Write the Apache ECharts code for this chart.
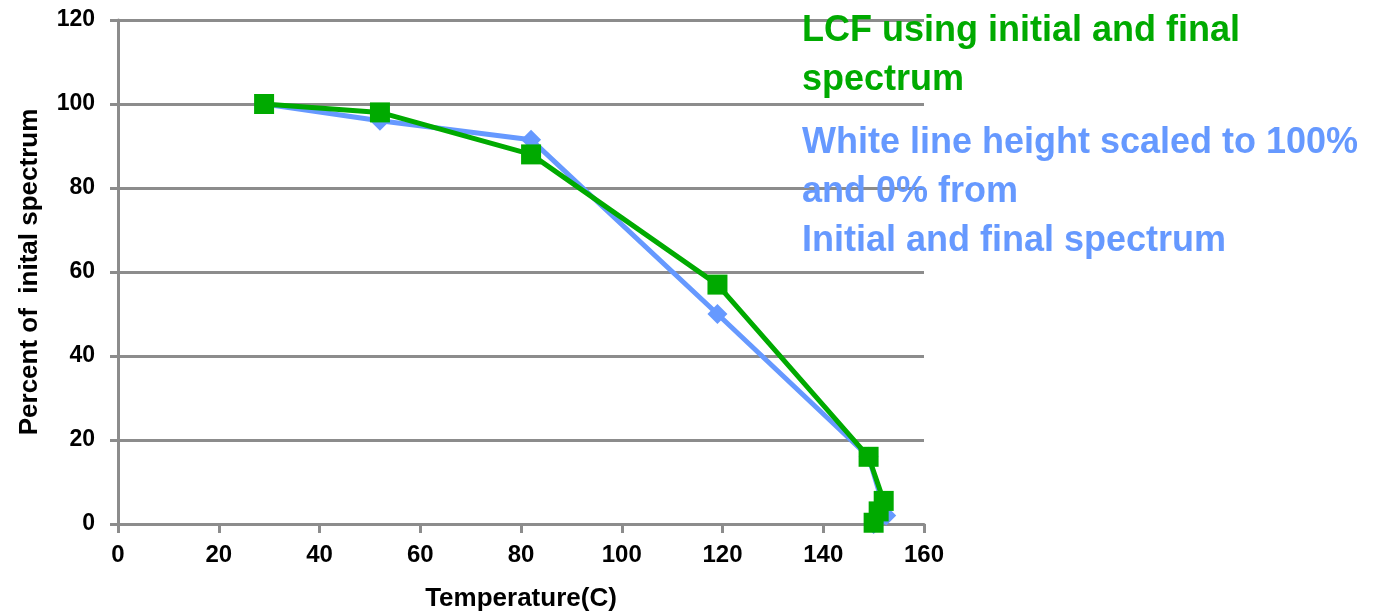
<!DOCTYPE html>
<html>
<head>
<meta charset="utf-8">
<script src="https://cdn.jsdelivr.net/npm/echarts@6/dist/echarts.min.js"></script>
<style>
  html, body { margin: 0; padding: 0; background: #fff; }
  #chart { width: 1389px; height: 611px; }
</style>
</head>
<body>
<div id="chart"></div>
<script>
// Temperature (C) and percent of initial spectrum
const lcfTemp = [29, 52, 82, 119, 149, 152, 151, 150];
const lcfPct = [100, 98, 88, 57, 16, 5.5, 3, 0.3];
const whiteLineTemp = [29, 52, 82, 119, 149, 152.5, 151, 150];
const whiteLinePct = [100, 96, 91.5, 50, 16, 2, 1, 0];

const lcfName = 'LCF using initial and final\nspectrum';
const whiteName = 'White line height scaled to 100%\nand 0% from\nInitial and final spectrum';

const green = '#00aa00';
const blue = '#6699ff';
const gridGray = '#8c8c8c';
const labelFont = 'Liberation Sans, Arial, sans-serif';

const pair = (xs, ys) => xs.map((x, i) => [x, ys[i]]);

const chart = echarts.init(document.getElementById('chart'));

const option = {
  animation: false,
  backgroundColor: '#fff',
  grid: { left: 118, right: 465, top: 20, bottom: 87, outerBoundsMode: 'none', containLabel: false },
  legend: {
    orient: 'vertical',
    left: 792,
    top: 2,
    icon: 'none',
    itemWidth: 0,
    itemGap: 14,
    data: [
      { name: lcfName, textStyle: { color: green } },
      { name: whiteName, textStyle: { color: blue } },
    ],
    textStyle: {
      fontSize: 36,
      fontWeight: 'bold',
      lineHeight: 49,
      fontFamily: labelFont,
    },
  },
  xAxis: {
    type: 'value',
    min: 0,
    max: 160,
    interval: 20,
    name: 'Temperature(C)',
    nameLocation: 'middle',
    nameGap: 62,
    nameTextStyle: { color: '#000', fontSize: 26, fontWeight: 'bold', fontFamily: labelFont },
    axisLine: { show: true, lineStyle: { color: gridGray, width: 3 } },
    axisTick: { show: true, length: 9, lineStyle: { color: gridGray, width: 3 } },
    axisLabel: { color: '#000', fontSize: 24, fontWeight: 'bold', margin: 19, fontFamily: labelFont },
    splitLine: { show: false },
  },
  yAxis: {
    type: 'value',
    min: 0,
    max: 120,
    interval: 20,
    name: 'Percent of  inital spectrum',
    nameLocation: 'middle',
    nameGap: 75,
    nameTextStyle: { color: '#000', fontSize: 26, fontWeight: 'bold', fontFamily: labelFont },
    axisLine: { show: true, lineStyle: { color: gridGray, width: 3 } },
    axisTick: { show: true, length: 8, lineStyle: { color: gridGray, width: 3 } },
    axisLabel: { color: '#000', fontSize: 23, fontWeight: 'bold', margin: 23, fontFamily: labelFont },
    splitLine: { show: true, lineStyle: { color: gridGray, width: 3 } },
  },
  series: [
    {
      name: whiteName,
      type: 'line',
      data: pair(whiteLineTemp, whiteLinePct),
      symbol: 'diamond',
      symbolSize: 20,
      itemStyle: { color: blue },
      lineStyle: { color: blue, width: 5 },
      z: 2,
    },
    {
      name: lcfName,
      type: 'line',
      data: pair(lcfTemp, lcfPct),
      symbol: 'rect',
      symbolSize: 20,
      itemStyle: { color: green },
      lineStyle: { color: green, width: 5 },
      z: 3,
    },
  ],
};

chart.setOption(option);
</script>
</body>
</html>
